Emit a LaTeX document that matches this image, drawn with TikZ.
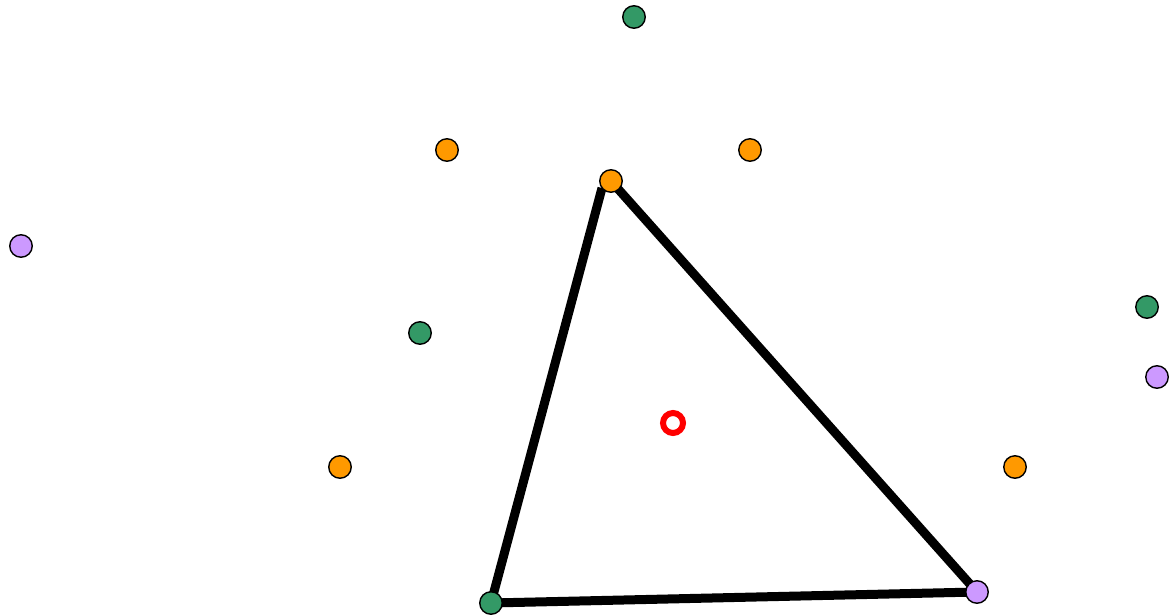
\documentclass[tikz,border=0pt]{standalone}
\definecolor{dotorange}{RGB}{255,153,0}
\definecolor{dotgreen}{RGB}{51,153,102}
\definecolor{dotpurple}{RGB}{204,153,255}
\tikzset{
  dot/.style={circle,draw=black,line width=1.4pt,minimum size=22.5pt,inner sep=0pt},
  od/.style={dot,fill=dotorange},
  gd/.style={dot,fill=dotgreen},
  pd/.style={dot,fill=dotpurple},
  edge/.style={line width=9pt,line cap=butt},
}
\begin{document}
\begin{tikzpicture}[x=1pt,y=-1pt]
\useasboundingbox (0,0) rectangle (1169,615);
% triangle vertices
\coordinate (A) at (611,181);
\coordinate (B) at (977,592);
\coordinate (C) at (491,603);
\coordinate (Ctop) at (602,188);
\draw[edge] (A) -- (B);
\draw[edge] (B) -- (C);
\draw[edge] (C) -- (Ctop);
% dots
\node[gd] (g1) at (634,17) {};
\node[od] (o1) at (447,150) {};
\node[od] (o2) at (750,150) {};
\node[od] (oa) at (A) {};
\node[pd] (p1) at (21,246) {};
\node[gd] (g2) at (420,333) {};
\node[gd] (g3) at (1147,307) {};
\node[pd] (p2) at (1157,377) {};
\node[od] (o3) at (340,467) {};
\node[od] (o4) at (1015,467) {};
\node[gd] (gc) at (C) {};
\node[pd] (pb) at (B) {};
% red ring
\draw[red,line width=6pt] (673,423) circle (10pt);
\end{tikzpicture}
\end{document}
